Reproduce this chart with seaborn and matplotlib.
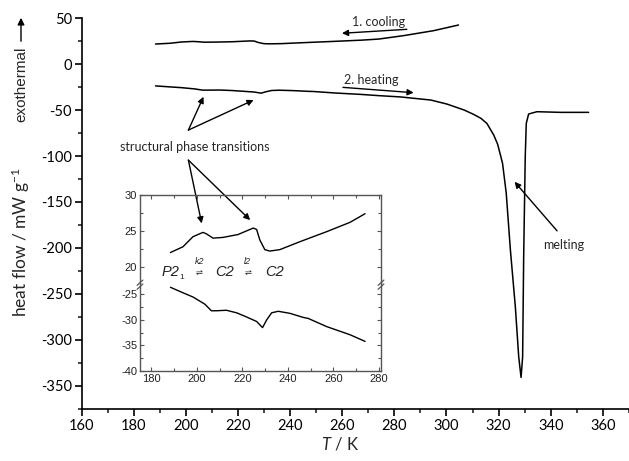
import matplotlib
matplotlib.use("Agg")
import matplotlib.pyplot as plt
from matplotlib.ticker import MultipleLocator
import numpy as np
import pandas as pd
import seaborn as sns

# DSC traces: temperature (K) and heat flow (mW g^-1)
cooling_T = [188.4, 193.9, 198.3, 202.7, 204.2, 207.1, 211.5, 218.1, 224.8, 226.3,
             227.7, 229.9, 232.1, 236.5, 245.3, 257.1, 267.4, 274.0, 283.5, 295.0, 304.6]
cooling_Y = [22.0, 22.8, 24.2, 24.8, 24.6, 24.0, 24.1, 24.5, 25.4, 25.2,
             23.75, 22.4, 22.2, 22.4, 23.5, 24.9, 26.2, 27.4, 31.1, 36.5, 42.7]

heating_T = [188.4, 193.5, 198.3, 203.5, 206.4, 208.5, 213.0, 217.5, 221.8, 226.3,
             228.9, 230.7, 232.9, 235.8, 240.9, 246.8, 249.0, 257.1, 267.4, 274.0,
             282.3, 294.0, 300.2, 306.8, 310.4, 313.2, 315.5, 318.1, 319.6, 320.7,
             321.5, 322.9, 324.5, 326.4, 327.7, 328.6, 329.2, 329.6, 330.2, 330.6,
             331.5, 334.7, 343.7, 354.5]
heating_Y = [-23.6, -24.6, -25.5, -26.9, -28.2, -28.2, -28.1, -28.6, -29.4, -30.3,
             -31.5, -30.0, -28.6, -28.3, -28.7, -29.5, -29.7, -31.3, -32.9, -34.2,
             -35.6, -39.0, -43.4, -49.9, -54.6, -58.9, -64.5, -77.0, -87.0, -99.0,
             -108.0, -140.0, -202.0, -264.0, -318.6, -341.0, -318.6, -209.7, -100.8, -64.4,
             -54.2, -51.7, -52.4, -52.4]

inset_T_max = 274.0

sns.set_theme(style="ticks")
plt.rcParams["font.family"] = ["Lato", "DejaVu Sans"]
plt.rcParams["axes.linewidth"] = 1.2
plt.rcParams["axes.unicode_minus"] = False
plt.rcParams["mathtext.fontset"] = "custom"
plt.rcParams["mathtext.rm"] = "Lato"
plt.rcParams["mathtext.it"] = "Lato:italic"

cool = pd.DataFrame({"T": cooling_T, "Y": cooling_Y})
heat = pd.DataFrame({"T": heating_T, "Y": heating_Y})

W, H = 629, 461
fig = plt.figure(figsize=(W / 100, H / 100), dpi=100)


def box(l, t, r, b):
    return [l / W, 1 - b / H, (r - l) / W, (b - t) / H]


ax = fig.add_axes(box(81.5, 18.3, 629, 409.3))
lw = 1.1
sns.lineplot(data=cool, x="T", y="Y", sort=False, color="black", lw=lw, ax=ax)
sns.lineplot(data=heat, x="T", y="Y", sort=False, color="black", lw=lw, ax=ax)
ax.set_xlim(160, 370)
ax.set_ylim(-375.7, 50)
ax.xaxis.set_major_locator(MultipleLocator(20))
ax.xaxis.set_minor_locator(MultipleLocator(10))
ax.yaxis.set_major_locator(MultipleLocator(50))
ax.yaxis.set_minor_locator(MultipleLocator(25))
ax.tick_params(which="major", direction="out", length=5, width=1.2, labelsize=10.5,
               colors="black", pad=2)
ax.tick_params(which="minor", direction="out", length=3, width=1.2)
for s in ("top", "right"):
    ax.spines[s].set_visible(False)
for s in ("left", "bottom"):
    ax.spines[s].set_color("black")
ax.set_xlabel("")
ax.set_ylabel("")

fig.text(340 / W, 1 - 444 / H, r"$T$ / K", ha="center", va="center", fontsize=12)
fig.text(21 / W, 1 - 242 / H, r"heat flow / mW g$^{-1}$", rotation=90,
         ha="center", va="center", fontsize=12.5)
fig.text(21 / W, 1 - 84 / H, "exothermal", rotation=90, ha="center", va="center",
         fontsize=11, fontfamily=["Liberation Sans", "DejaVu Sans"])
fig.add_artist(matplotlib.patches.FancyArrowPatch(
    (21 / W, 1 - 44 / H), (21 / W, 1 - 15 / H), transform=fig.transFigure,
    arrowstyle="-|>", mutation_scale=10, lw=1.0, color="black"))

arrow = dict(arrowstyle="-|>", color="black", lw=1.0, mutation_scale=9,
             shrinkA=0, shrinkB=0)
txt_kw = dict(fontsize=9, ha="center", va="center")

ax.text(273.8, 45.9, "1. cooling", **txt_kw)
ax.annotate("", xy=(259.9, 33.7), xytext=(284.8, 38.0), arrowprops=arrow)
ax.text(271.3, -17.2, "2. heating", **txt_kw)
ax.annotate("", xy=(287.4, -31.0), xytext=(260.3, -25.2), arrowprops=arrow)
ax.text(345.0, -197, "melting", **txt_kw)
ax.annotate("", xy=(326.1, -128), xytext=(342.4, -181.4), arrowprops=arrow)
ax.text(203.5, -89.9, "structural phase transitions", **txt_kw)
for end in [(206.8, -35.4), (226.0, -39.0)]:
    ax.annotate("", xy=end, xytext=(201.0, -71.7), arrowprops=arrow)
for end in [(206.1, -173.3), (224.7, -169.7)]:
    ax.annotate("", xy=end, xytext=(201.0, -104.4), arrowprops=arrow, zorder=10)

# inset with a broken y axis
ins_font = ["Liberation Sans", "DejaVu Sans"]
ax_up = fig.add_axes(box(140, 195, 381, 282.7))
ax_lo = fig.add_axes(box(140, 282.7, 381, 371))
cool_in = cool[cool["T"] <= inset_T_max]
heat_in = heat[heat["T"] <= inset_T_max]
sns.lineplot(data=cool_in, x="T", y="Y", sort=False, color="black", lw=1.0, ax=ax_up)
sns.lineplot(data=heat_in, x="T", y="Y", sort=False, color="black", lw=1.0, ax=ax_lo)

gray = "#555555"
for a in (ax_up, ax_lo):
    a.set_facecolor("none")
    a.set_xlim(175, 281)
    a.xaxis.set_major_locator(MultipleLocator(20))
    a.xaxis.set_minor_locator(MultipleLocator(10))
    a.yaxis.set_major_locator(MultipleLocator(5))
    a.yaxis.set_minor_locator(MultipleLocator(2.5))
    a.set_xlabel("")
    a.set_ylabel("")
    for s in a.spines.values():
        s.set_color(gray)
        s.set_linewidth(1.0)

ax_up.set_ylim(17.8, 30)
ax_lo.set_ylim(-40, -22.7)
ax_up.spines["bottom"].set_visible(False)
ax_lo.spines["top"].set_visible(False)
ax_up.tick_params(which="both", direction="in", top=True, bottom=False, right=True,
                  labelbottom=False, labelsize=8, color=gray, width=0.8, pad=2)
ax_lo.tick_params(which="both", direction="in", top=False, bottom=True, right=True,
                  labelsize=8, color=gray, width=0.8, pad=2)
for a in (ax_up, ax_lo):
    a.tick_params(which="major", length=3)
    a.tick_params(which="minor", length=2)
    for lab in a.get_xticklabels() + a.get_yticklabels():
        lab.set_fontfamily(ins_font)
        lab.set_color("#222222")

# break marks on both vertical spines
for xb in (0, 1):
    for dy in (-0.045, 0.0):
        ax_up.plot([xb - 0.012, xb + 0.012], [dy - 0.03, dy + 0.03],
                   transform=ax_up.transAxes, color=gray, lw=0.9, clip_on=False)

lab_kw = dict(fontfamily=ins_font, va="center", color="#222222")
ax_up.text(192.5, 19.35, "P2", fontsize=10.5, style="italic", ha="right", **lab_kw)
ax_up.text(192.4, 18.5, "1", fontsize=6, ha="left", **lab_kw)
ax_up.text(212.1, 19.35, "C2", fontsize=10.5, style="italic", ha="center", **lab_kw)
ax_up.text(234.1, 19.35, "C2", fontsize=10.5, style="italic", ha="center", **lab_kw)
ax_up.text(201.0, 20.8, "k2", fontsize=6.5, style="italic", ha="center", **lab_kw)
ax_up.text(222.4, 20.8, "l2", fontsize=6.5, style="italic", ha="center", **lab_kw)
ax_up.text(201.0, 19.0, "\u21cc", fontsize=6, ha="center", **lab_kw)
ax_up.text(222.4, 19.0, "\u21cc", fontsize=6, ha="center", **lab_kw)

fig.savefig("out.png", dpi=100)
